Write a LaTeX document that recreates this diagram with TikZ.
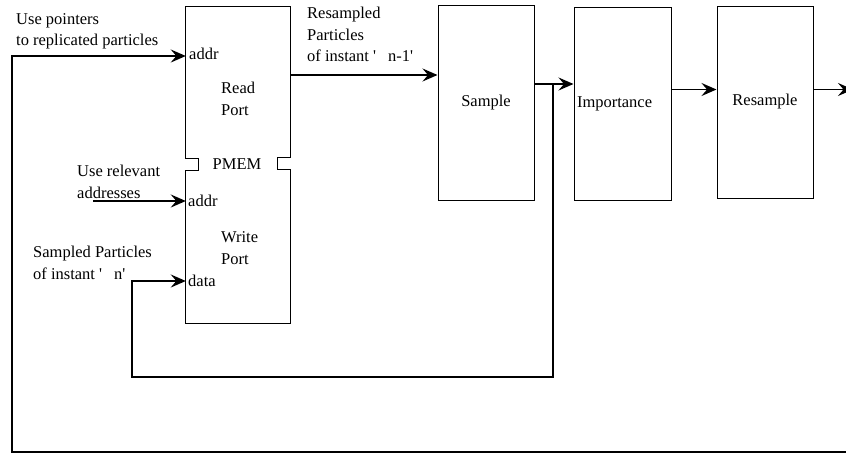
\documentclass[tikz,border=0pt]{standalone}
\usepackage{fontspec}
\setmainfont{Liberation Serif}
\usetikzlibrary{arrows.meta}
\begin{document}
\begin{tikzpicture}[x=1pt,y=-1pt,
  font=\fontsize{16.5}{21.5}\selectfont,
  blk/.style={draw, line width=1pt, minimum width=96pt, minimum height=194pt, inner sep=0pt},
  wire/.style={line width=1.8pt},
  conn/.style={wire, -{Stealth[length=15pt,width=13pt,inset=5.5pt]}},
  lbl/.style={align=left, inner sep=0pt, anchor=west},
  port/.style={inner sep=0pt, anchor=west}]
\useasboundingbox (0,0) rectangle (846,455);

% memory block with its read and write ports
\node[minimum width=104pt, minimum height=316pt, inner sep=0pt] (pmem) at (238,165) {};
\draw[line width=1pt] (pmem.north west) -- (pmem.north east) -- ++(0,151) -- ++(-13,0)
  -- ++(0,12) -- ++(13,0) -- (pmem.south east) -- (pmem.south west) -- ++(0,-153)
  -- ++(13,0) -- ++(0,-12) -- ++(-13,0) -- cycle;
\node (pmemlbl) at (237,164) {PMEM};
\node[port] (raddr) at (189,54) {addr};
\node[lbl] (rport) at (221,99) {Read\\Port};
\node[port] (waddr) at (188,201) {addr};
\node[lbl] (wport) at (221,248) {Write\\Port};
\node[port] (wdata) at (188,281) {data};

% processing stages
\node[blk, minimum height=195pt] (sample) at (486,102.5) {Sample};
\node[blk, minimum width=97pt, minimum height=193pt, text width=91pt, align=left, inner xsep=3pt] (imp) at (622.5,103.5) {Importance};
\node[blk, minimum height=192pt] (resamp) at (765,102) {Resample};

% labels
\node[lbl] (ptrlbl) at (16,31.5) {Use pointers\\to replicated particles};
\node[lbl] (reslbl) at (307,34.5) {Resampled\\Particles\\of instant \textquotesingle\hspace{12pt}n-1\textquotesingle};
\node[lbl] (rellbl) at (77,182) {Use relevant\\addresses};
\node[lbl] (smplbl) at (33,263) {Sampled Particles\\of instant \textquotesingle\hspace{12pt}n\textquotesingle};

% routing points
\coordinate (rdY) at (0,75);
\coordinate (chainY) at (0,89.5);
\coordinate (tap) at (553,84);
\coordinate (fbB) at (553,377);
\coordinate (fbL) at (132,377);
\coordinate (relS) at (93,201);
\coordinate (loopR) at (850,452);
\coordinate (loopBL) at (12,452);
\coordinate (loopTL) at (12,56);
\coordinate (outE) at (853,89.5);

% data flow
\draw[conn] (pmem.east |- rdY) -- (sample.west |- rdY);
\draw[conn] (sample.east |- tap) -- (imp.west |- tap);
\draw[conn] (imp.east |- chainY) -- (resamp.west |- chainY);
\draw[conn] (resamp.east |- chainY) -- (outE);

% feedback of sampled particles into the write port
\draw[conn] (tap) -- (fbB) -- (fbL) -- (fbL |- wdata) -- (pmem.west |- wdata);
\draw[conn] (relS) -- (pmem.west |- relS);

% pointers back to the read port
\draw[conn] (loopR) -- (loopBL) -- (loopTL) -- (pmem.west |- loopTL);
\end{tikzpicture}
\end{document}
